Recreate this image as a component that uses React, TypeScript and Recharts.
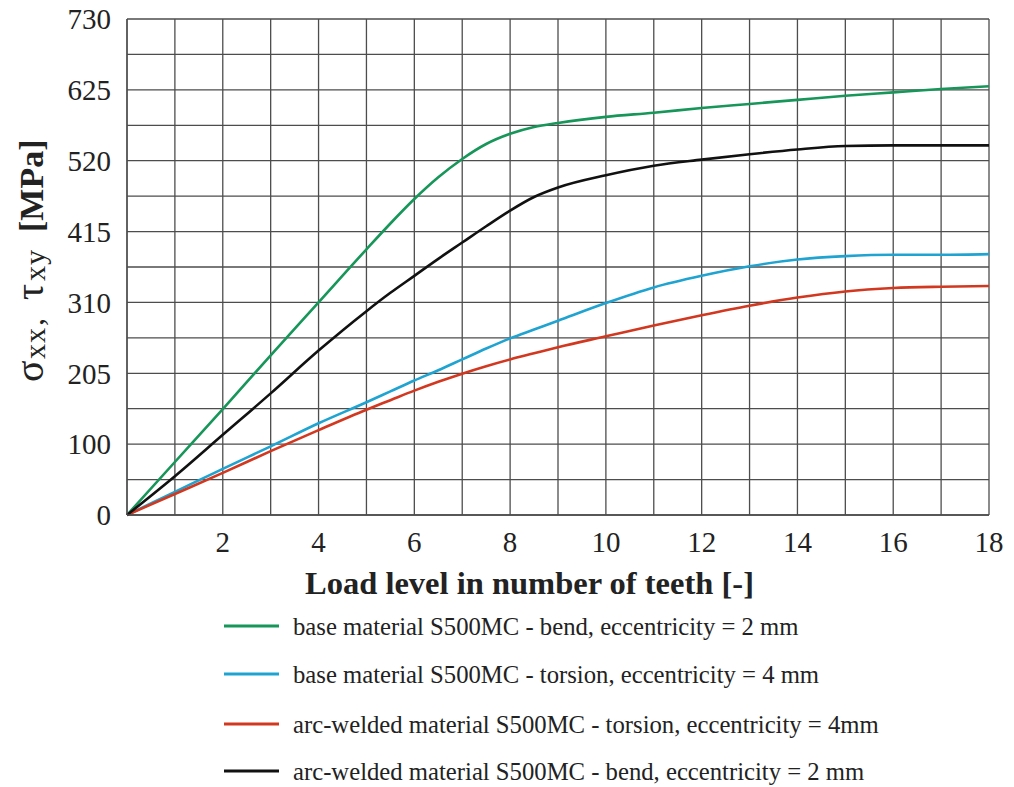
import React from "react";
import { LineChart, Line, XAxis, YAxis, CartesianGrid } from "recharts";

const loadLevels = [0, 1, 2, 3, 4, 5, 5.5, 6, 6.5, 7, 7.5, 8, 8.5, 9, 10, 11, 12, 13, 14, 15, 16, 17, 18];
const baseBend = [0, 78, 156, 235, 313, 391, 429, 465, 497, 524, 546, 561, 571, 577, 586, 592, 599, 605, 611, 617, 622, 627, 631];
const baseTorsion = [0, 34, 68, 101, 135, 166, 182, 198, 213, 229, 245, 260, 273, 286, 312, 335, 352, 366, 376, 381, 383, 383, 384];
const weldedTorsion = [0, 31, 62, 94, 125, 155, 169, 183, 196, 208, 219, 229, 238, 247, 263, 279, 294, 308, 320, 329, 334, 336, 337];
const weldedBend = [0, 57, 118, 179, 242, 300, 327, 352, 377, 401, 425, 448, 468, 482, 500, 514, 523, 531, 538, 543, 544, 544, 544];

const xTicks = [0, 1, 2, 3, 4, 5, 6, 7, 8, 9, 10, 11, 12, 13, 14, 15, 16, 17, 18];
const xTickLabels = ["", "", "2", "", "4", "", "6", "", "8", "", "10", "", "12", "", "14", "", "16", "", "18"];
const yTicks = [0, 52.14, 104.29, 156.43, 208.57, 260.71, 312.86, 365, 417.14, 469.29, 521.43, 573.57, 625.71, 677.86, 730];
const yTickLabels = ["0", "", "100", "", "205", "", "310", "", "415", "", "520", "", "625", "", "730"];

const seriesNames = [
  "base material S500MC - bend, eccentricity = 2 mm",
  "base material S500MC - torsion, eccentricity = 4 mm",
  "arc-welded material S500MC - torsion, eccentricity = 4mm",
  "arc-welded material S500MC - bend, eccentricity = 2 mm",
];
const seriesKeys = ["baseBend", "baseTorsion", "weldedTorsion", "weldedBend"];
const seriesColors = ["#17965a", "#1fa3d1", "#d2381f", "#111111"];

const xTitle = "Load level in number of teeth [-]";

const data = loadLevels.map((t, i) => ({
  t,
  baseBend: baseBend[i],
  baseTorsion: baseTorsion[i],
  weldedTorsion: weldedTorsion[i],
  weldedBend: weldedBend[i],
}));

const FONT = "'Liberation Serif', 'Times New Roman', serif";
const GRID = "#4d4d4d";

export default function App() {
  return (
    <div style={{ position: "relative", width: 1000, height: 787, marginTop: -8, fontFamily: FONT, background: "#fff" }}>
      <LineChart width={1000} height={568} data={data} margin={{ top: 19, right: 19, bottom: 13, left: 0 }}>
        <CartesianGrid stroke={GRID} strokeWidth={1.3} />
        <XAxis
          dataKey="t"
          type="number"
          domain={[0, 18]}
          ticks={xTicks}
          interval={0}
          height={40}
          tickLine={false}
          tickSize={6}
          tickMargin={10}
          axisLine={{ stroke: GRID, strokeWidth: 1.3 }}
          tickFormatter={(v: number) => xTickLabels[xTicks.indexOf(v)] ?? ""}
          tick={{ fontSize: 29, fontFamily: FONT, fill: "#222" }}
        />
        <YAxis
          type="number"
          domain={[0, 730]}
          ticks={yTicks}
          interval={0}
          width={119}
          tickLine={false}
          tickSize={6}
          tickMargin={10}
          axisLine={{ stroke: GRID, strokeWidth: 1.3 }}
          tickFormatter={(v: number) => yTickLabels[yTicks.indexOf(v)] ?? ""}
          tick={{ fontSize: 29, fontFamily: FONT, fill: "#222" }}
        />
        {seriesKeys.map((k, i) => (
          <Line
            key={k}
            dataKey={k}
            type="monotone"
            stroke={seriesColors[i]}
            strokeWidth={2.6}
            dot={false}
            isAnimationActive={false}
          />
        ))}
      </LineChart>
      <svg
        width={1000}
        height={787}
        style={{ position: "absolute", left: 0, top: 0, pointerEvents: "none" }}
      >
        <g transform="translate(35,382) rotate(-90)" fill="#222" fontFamily={FONT}>
          <text x={0} y={0} fontSize={40}>σ</text>
          <text x={23} y={2} fontSize={30} letterSpacing={1}>xx</text>
          <text x={56} y={0} fontSize={32}>,</text>
          <text x={82} y={0} fontSize={40}>τ</text>
          <text x={101} y={2} fontSize={30} letterSpacing={1}>xy</text>
          <text x={150} y={0} fontSize={34} fontWeight="bold">[MPa]</text>
        </g>
        <text x={521.5} y={594} textAnchor="middle" fontSize={32.5} fontWeight="bold" fill="#222" fontFamily={FONT}>
          {xTitle}
        </text>
        {seriesNames.map((name, i) => {
          const cy = [626, 674, 724, 771][i];
          return (
            <g key={name}>
              <line x1={216} x2={271} y1={cy} y2={cy} stroke={seriesColors[i]} strokeWidth={3} />
              <text x={285} y={cy + 9} fontSize={24.7} fill="#222" fontFamily={FONT}>
                {name}
              </text>
            </g>
          );
        })}
      </svg>
    </div>
  );
}
